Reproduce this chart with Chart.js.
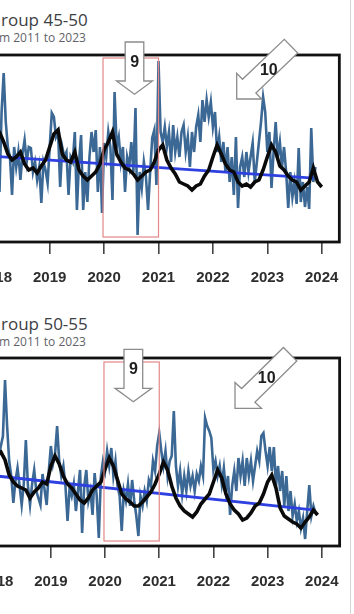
<!DOCTYPE html>
<html><head><meta charset="utf-8">
<script src="https://cdn.jsdelivr.net/npm/chart.js@4"></script>
<style>
html,body{margin:0;padding:0;background:#fff;width:354px;height:614px;overflow:hidden;position:relative;font-family:'Open Sans',sans-serif}
canvas{position:absolute;left:-40px}
#c1{top:0}
#c2{top:300px}
.title{position:absolute;font-size:17px;line-height:17px;color:#3c4043;white-space:nowrap}
.sub{position:absolute;font-size:12px;line-height:12px;color:#5f6368;white-space:nowrap}
.edge{position:absolute;left:350px;top:0;width:1px;height:614px;background:#d4d4d4}
</style></head>
<body>
<div class="title" style="left:1px;top:11px">roup 45-50</div>
<div class="sub" style="left:-1px;top:32px">m 2011 to 2023</div>
<div class="title" style="left:1px;top:315px">roup 50-55</div>
<div class="sub" style="left:-1px;top:336px">m 2011 to 2023</div>
<canvas id="c1" width="394" height="300"></canvas>
<canvas id="c2" width="394" height="314"></canvas>
<div class="edge"></div>
<script>
// ---- data ----
const tickYears = [2018, 2019, 2020, 2021, 2022, 2023, 2024];
const tickLabels = ['2018', '2019', '2020', '2021', '2022', '2023', '2024'];
const seriesStart = 2018;
const weeklyStep = 1 / 26;   // one observation every two weeks
const smoothStep = 1 / 13;   // smoothed series, every four weeks
const highlightFrom = 2019.98;
const highlightTo = 2021.0;

// Age group 45-50
const weekly45 = [95,120,50,130,169,120,95,85,47,95,
 75,90,62,88,102,80,95,94,70,80,
 62,75,39,80,72,59,95,129,125,105,
 110,55,95,85,90,47,85,80,110,32,
 80,107,32,70,40,85,110,90,112,50,
 95,29,99,85,110,95,42,150,95,105,
 80,95,50,85,75,100,70,134,7,70,
 54,80,65,32,70,104,112,57,181,110,
 100,115,95,110,80,117,90,105,85,110,
 117,90,105,75,110,90,115,127,100,142,
 120,142,125,140,115,130,90,105,80,100,
 70,95,60,85,47,105,34,75,85,65,
 90,70,85,99,60,80,100,120,145,130,
 90,110,54,90,120,85,100,75,95,70,
 34,70,45,60,38,94,40,60,35,55,
 33,114,60,75];
const smooth45 = [112,110,100,88,82,85,90,78,72,74,
 69,76,82,95,108,112,88,82,80,90,
 72,66,62,66,70,78,92,100,110,88,
 80,74,72,68,62,66,70,72,80,92,
 97,82,74,68,60,58,56,52,56,58,
 66,72,85,97,88,78,72,70,60,56,
 58,55,60,62,72,85,97,90,76,72,
 66,62,60,52,56,60,74,60,55];
const trendDates45 = [2018.0, 2023.85];
const trend45 = [85.6, 63.8];

// Age group 50-55
const weekly50 = [95,90,100,110,166,120,85,70,43,65,
 78,60,41,62,106,60,41,62,76,55,
 48,41,72,56,41,75,100,82,92,120,
 85,70,80,60,25,58,50,62,35,55,
 76,13,60,76,45,55,31,73,50,8,
 70,85,75,95,80,98,70,85,60,50,
 15,55,45,62,40,66,45,30,10,50,
 40,55,45,66,60,85,75,100,113,95,
 80,95,70,85,90,135,80,60,75,52,
 70,55,75,60,70,55,72,65,80,70,
 128,120,115,108,76,85,70,80,62,78,
 55,70,31,60,75,55,88,70,85,60,
 88,70,85,65,80,95,85,110,113,95,
 80,99,75,99,60,80,55,75,40,70,
 35,55,30,42,25,35,18,28,7,35,
 61,30,40,33];
const smooth50 = [92,94,86,71,64,60,58,56,48,54,
 58,64,62,80,90,82,70,62,58,52,
 46,43,48,56,60,64,77,88,80,66,
 52,47,44,40,40,44,49,54,62,72,
 84,76,60,48,40,35,32,29,34,42,
 47,52,64,76,68,52,42,36,32,26,
 28,33,40,43,52,64,71,58,38,30,
 27,24,22,18,24,29,36,31];
const trendDates50 = [2018.0, 2023.83];
const trend50 = [70.0, 36.2];

// ---- helpers ----
const toXY = (vals, start, step) => vals.map((v, i) => ({ x: start + i * step, y: v }));
const pair = (xs, ys) => xs.map((x, i) => ({ x: x, y: ys[i] }));

const overlay = {
  id: 'overlay',
  afterDatasetsDraw(chart, args, opts) {
    const { ctx, chartArea: a, scales: { x } } = chart;
    ctx.save();
    ctx.strokeStyle = '#e28888';
    ctx.lineWidth = 1.2;
    const x0 = x.getPixelForValue(highlightFrom), x1 = x.getPixelForValue(highlightTo);
    ctx.strokeRect(x0, a.top + opts.rectTop, x1 - x0, a.bottom - opts.rectBottom - a.top - opts.rectTop);
    ctx.restore();
  },
  afterDraw(chart, args, opts) {
    const { ctx, chartArea: a } = chart;
    ctx.save();
    ctx.strokeStyle = '#111';
    ctx.lineWidth = 2.8;
    ctx.strokeRect(a.left, a.top, a.right - a.left, a.bottom - a.top);
    const ox = 40, oy = opts.top;
    for (const ar of opts.arrows) {
      ctx.beginPath();
      ar.pts.forEach((p, i) => {
        const px = p[0] + ox, py = p[1] - oy;
        if (i === 0) ctx.moveTo(px, py); else ctx.lineTo(px, py);
      });
      ctx.closePath();
      ctx.fillStyle = '#fff';
      ctx.fill();
      ctx.strokeStyle = '#8c8c8c';
      ctx.lineWidth = 1.3;
      ctx.stroke();
      ctx.fillStyle = '#1e1e1e';
      ctx.font = 'bold 16px "Liberation Sans", Arial, sans-serif';
      ctx.textAlign = 'center';
      ctx.textBaseline = 'middle';
      ctx.fillText(ar.text, ar.tx + ox, ar.ty - oy);
    }
    ctx.restore();
  }
};

function makeChart(id, cfg) {
  return new Chart(document.getElementById(id), {
    type: 'line',
    data: {
      datasets: [
        { label: 'weekly', data: toXY(cfg.weekly, seriesStart, weeklyStep), borderColor: '#3b6894', borderWidth: 2.6, pointRadius: 0, tension: 0, order: 3 },
        { label: 'trend', data: pair(cfg.trendDates, cfg.trend), borderColor: '#2e40e0', borderWidth: 2.8, pointRadius: 0, tension: 0, order: 2 },
        { label: 'smoothed', data: toXY(cfg.smooth, seriesStart, smoothStep), borderColor: '#0a0a0a', borderWidth: 3.6, pointRadius: 0, tension: 0, order: 1 }
      ]
    },
    options: {
      responsive: false,
      animation: false,
      events: [],
      layout: { padding: cfg.padding },
      plugins: {
        legend: { display: false },
        tooltip: { enabled: false },
        overlay: cfg.overlay
      },
      scales: {
        x: {
          type: 'linear',
          min: cfg.xMin, max: cfg.xMax,
          afterBuildTicks: s => { s.ticks = tickYears.map(v => ({ value: v })); },
          afterFit: s => { s.height = 58; },
          grid: { display: true, drawOnChartArea: false, drawTicks: true, tickLength: 12, color: '#444', lineWidth: 1.6 },
          border: { display: false },
          ticks: {
            padding: 15, autoSkip: false, maxRotation: 0,
            color: '#2e2e2e',
            font: { family: '"Liberation Sans", Arial, sans-serif', size: 15, weight: 'bold' },
            callback: v => tickLabels[tickYears.indexOf(v)]
          }
        },
        y: { display: false, min: 0, max: cfg.yMax }
      }
    },
    plugins: [overlay]
  });
}

makeChart('c1', {
  weekly: weekly45, smooth: smooth45, trendDates: trendDates45, trend: trend45,
  xMin: 2017.351, xMax: 2024.324, yMax: 187,
  padding: { top: 55, right: 13, bottom: 0, left: 0 },
  overlay: {
    top: 0, rectTop: 3, rectBottom: 5,
    arrows: [
      { pts: [[125.2,42],[143.8,42],[143.8,81],[152.5,81],[134.5,94.3],[116.5,81],[125.2,81]], text: '9', tx: 134.8, ty: 63 },
      { pts: [[236.7,99],[236.7,73.3],[242.5,79.3],[284.3,39.3],[297.7,53],[255.9,93],[261.7,99]], text: '10', tx: 268.8, ty: 71 }
    ]
  }
});

makeChart('c2', {
  weekly: weekly50, smooth: smooth50, trendDates: trendDates50, trend: trend50,
  xMin: 2017.323, xMax: 2024.329, yMax: 188,
  padding: { top: 58, right: 11, bottom: 10, left: 0 },
  overlay: {
    top: 300, rectTop: 4, rectBottom: 5,
    arrows: [
      { pts: [[124,349.3],[142.7,349.3],[142.7,388.3],[151.7,388.3],[133.35,401.7],[115,388.3],[124,388.3]], text: '9', tx: 133.5, ty: 370 },
      { pts: [[235,408.3],[235,382.5],[241.6,388.5],[283.5,347.5],[296.8,361],[254.9,402.3],[261.5,408.3]], text: '10', tx: 266.7, ty: 378.3 }
    ]
  }
});
</script>
</body></html>
